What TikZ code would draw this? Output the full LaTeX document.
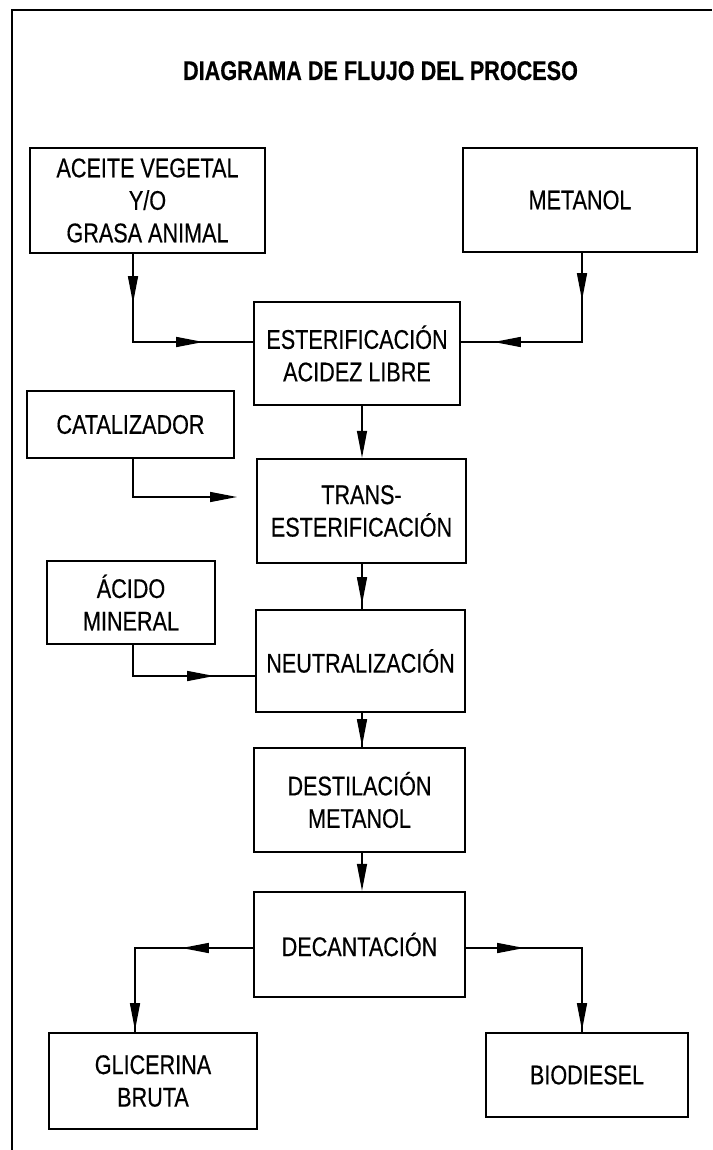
\documentclass[tikz,border=0pt]{standalone}
\usepackage{fontspec}
\setmainfont{Liberation Sans}[FakeStretch=0.80, FakeBold=0.4]
\usetikzlibrary{arrows.meta,decorations.markings}
\begin{document}
\begin{tikzpicture}[x=1pt,y=-1pt,
  >={Triangle[length=27pt,width=10pt]},
  box/.style={draw, line width=2.4pt, align=center, inner sep=0pt,
    font=\fontsize{27}{32.5}\selectfont},
  conn/.style={line width=1.4pt},
  marks/.style={postaction={decorate}, decoration={markings, #1}}]
\useasboundingbox (0,0) rectangle (712,1150);
% frame
\draw[line width=2.4pt] (12,1150) -- (12,10) -- (712,10);
% title
\node[font=\bfseries\fontsize{27}{30}\selectfont, anchor=base, inner sep=0pt] (title) at (380.5,80) {DIAGRAMA DE FLUJO DEL PROCESO};
% boxes
\node[box, minimum width=235pt, minimum height=105pt] (aceite) at (147.5,200.5) {ACEITE VEGETAL\\Y/O\\GRASA ANIMAL};
\node[box, minimum width=234pt, minimum height=104pt] (metanol) at (580,200) {METANOL};
\node[box, minimum width=206pt, minimum height=103pt] (ester) at (357,353.5) {ESTERIFICACIÓN\\ACIDEZ LIBRE};
\node[box, minimum width=207pt, minimum height=67pt] (catal) at (130.5,424.5) {CATALIZADOR};
\node[box, minimum width=209pt, minimum height=104pt] (trans) at (361.5,511) {TRANS-\\ESTERIFICACIÓN};
\node[box, minimum width=168pt, minimum height=83pt] (acido) at (131,602.5) {ÁCIDO\\MINERAL};
\node[box, minimum width=209pt, minimum height=102pt] (neut) at (360.5,661) {NEUTRALIZACIÓN};
\node[box, minimum width=211pt, minimum height=104pt] (dest) at (359.5,800) {DESTILACIÓN\\METANOL};
\node[box, minimum width=211pt, minimum height=105pt] (decant) at (359.5,944.5) {DECANTACIÓN};
\node[box, minimum width=208pt, minimum height=96pt] (glic) at (153,1081) {GLICERINA\\BRUTA};
\node[box, minimum width=202pt, minimum height=84pt] (bio) at (587,1075) {BIODIESEL};
% routing points
\coordinate (xc) at (362,0);
\coordinate (j1) at (133,342);
\coordinate (j2) at (582,342);
\coordinate (j4) at (133,497);
\coordinate (e4) at (237,497);
\coordinate (j6) at (133,676);
\coordinate (j9) at (135,948);
\coordinate (j10) at (582,948);
% connectors
\draw[conn, marks={mark=at position 49pt with {\arrow{>}}, mark=at position 158pt with {\arrow{>}}}]
  (aceite.south -| j1) |- (ester.west |- j1);
\draw[conn, marks={mark=at position 47pt with {\arrow{>}}, mark=at position 177pt with {\arrow{>}}}]
  (metanol.south -| j2) |- (ester.east |- j2);
\draw[conn, ->] (ester.south -| xc) -- (trans.north -| xc);
\draw[conn, ->] (catal.south -| j4) |- (e4);
\draw[conn, marks={mark=at position 40pt with {\arrow{>}}}] (trans.south -| xc) -- (neut.north -| xc);
\draw[conn, marks={mark=at position 112pt with {\arrow{>}}}] (acido.south -| j6) |- (neut.west |- j6);
\draw[conn, marks={mark=at position 33pt with {\arrow{>}}}] (neut.south -| xc) -- (dest.north -| xc);
\draw[conn, ->] (dest.south -| xc) -- (decant.north -| xc);
\draw[conn, marks={mark=at position 71pt with {\arrow{>}}, mark=at position 200pt with {\arrow{>}}}]
  (decant.west |- j9) -| (glic.north -| j9);
\draw[conn, marks={mark=at position 58pt with {\arrow{>}}, mark=at position 198pt with {\arrow{>}}}]
  (decant.east |- j10) -| (bio.north -| j10);
\end{tikzpicture}
\end{document}
